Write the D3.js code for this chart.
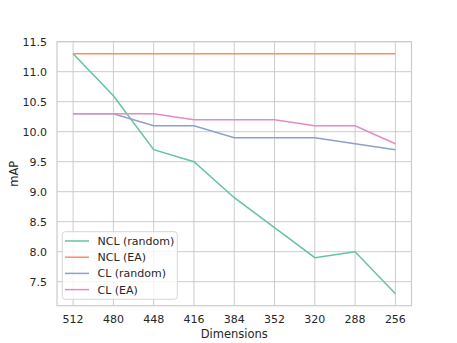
<!DOCTYPE html>
<html lang="en">
<head>
    <title>mAP vs dimensions</title>
    <script src="https://d3js.org/d3.v7.min.js"></script>
    <style>
        body { margin: 0; background: #fff; }
        text { font-family: "DejaVu Sans", sans-serif; fill: #262626; }
    </style>
</head>
<body>
<script>
    // data
    var dims = ["512", "480", "448", "416", "384", "352", "320", "288", "256"];
    var nclRandom = [11.3, 10.6, 9.7, 9.5, 8.9, 8.4, 7.9, 8.0, 7.3];
    var nclEA     = [11.3, 11.3, 11.3, 11.3, 11.3, 11.3, 11.3, 11.3, 11.3];
    var clRandom  = [10.3, 10.3, 10.1, 10.1, 9.9, 9.9, 9.9, 9.8, 9.7];
    var clEA      = [10.3, 10.3, 10.3, 10.2, 10.2, 10.2, 10.1, 10.1, 9.8];
    var yTicks = [7.5, 8.0, 8.5, 9.0, 9.5, 10.0, 10.5, 11.0, 11.5];

    var series = [
        {name: "NCL (random)", values: nclRandom, color: "#66c2a5"},
        {name: "NCL (EA)", values: nclEA, color: "#fc8d62"},
        {name: "CL (random)", values: clRandom, color: "#8da0cb"},
        {name: "CL (EA)", values: clEA, color: "#e78ac3"}
    ];

    var width = 457, height = 343;
    var pLeft = 57, pRight = 411.5, pTop = 41.7, pBottom = 305.7;

    var svg = d3.select("body").append("svg")
        .attr("width", width)
        .attr("height", height);

    // index scale with matplotlib-like 5% margins
    var x = d3.scaleLinear().domain([-0.4, dims.length - 1 + 0.4]).range([pLeft, pRight]);
    var y = d3.scaleLinear().domain([7.1, 11.5]).range([pBottom, pTop]);

    // grid
    svg.append("g").selectAll("line").data(dims).enter().append("line")
        .attr("x1", function(d, i) { return x(i); })
        .attr("x2", function(d, i) { return x(i); })
        .attr("y1", pTop).attr("y2", pBottom)
        .attr("stroke", "#cccccc").attr("stroke-width", 1);
    svg.append("g").selectAll("line").data(yTicks).enter().append("line")
        .attr("x1", pLeft).attr("x2", pRight)
        .attr("y1", function(d) { return y(d); })
        .attr("y2", function(d) { return y(d); })
        .attr("stroke", "#cccccc").attr("stroke-width", 1);

    // frame
    svg.append("rect")
        .attr("x", pLeft).attr("y", pTop)
        .attr("width", pRight - pLeft).attr("height", pBottom - pTop)
        .attr("fill", "none").attr("stroke", "#cccccc").attr("stroke-width", 1.2);

    // tick labels
    svg.append("g").selectAll("text").data(dims).enter().append("text")
        .attr("x", function(d, i) { return x(i); })
        .attr("y", 323)
        .attr("text-anchor", "middle")
        .style("font-size", "11px")
        .text(function(d) { return d; });
    svg.append("g").selectAll("text").data(yTicks).enter().append("text")
        .attr("x", 47)
        .attr("y", function(d) { return y(d) + 4; })
        .attr("text-anchor", "end")
        .style("font-size", "11px")
        .text(function(d) { return d.toFixed(1); });

    // axis labels
    svg.append("text")
        .attr("x", (pLeft + pRight) / 2).attr("y", 338)
        .attr("text-anchor", "middle")
        .style("font-size", "11.5px")
        .text("Dimensions");
    svg.append("text")
        .attr("transform", "translate(18," + ((pTop + pBottom) / 2) + ") rotate(-90)")
        .attr("text-anchor", "middle")
        .style("font-size", "11.5px")
        .text("mAP");

    // lines
    var line = d3.line()
        .x(function(d, i) { return x(i); })
        .y(function(d) { return y(d); });

    svg.append("g").selectAll("path").data(series).enter().append("path")
        .attr("d", function(d) { return line(d.values); })
        .attr("fill", "none")
        .attr("stroke", function(d) { return d.color; })
        .attr("stroke-width", 1.5);

    // legend
    var lg = svg.append("g");
    lg.append("rect")
        .attr("x", 62.3).attr("y", 231.7)
        .attr("width", 115).attr("height", 67.6)
        .attr("rx", 3)
        .attr("fill", "#fff").attr("fill-opacity", 0.8)
        .attr("stroke", "#d6d6d6").attr("stroke-width", 1);
    var items = lg.selectAll("g").data(series).enter().append("g")
        .attr("transform", function(d, i) { return "translate(0," + (241 + i * 16.2) + ")"; });
    items.append("line")
        .attr("x1", 65).attr("x2", 89)
        .attr("stroke", function(d) { return d.color; })
        .attr("stroke-width", 1.5);
    items.append("text")
        .attr("x", 97.5).attr("y", 4)
        .style("font-size", "11px")
        .text(function(d) { return d.name; });
</script>
</body>
</html>
